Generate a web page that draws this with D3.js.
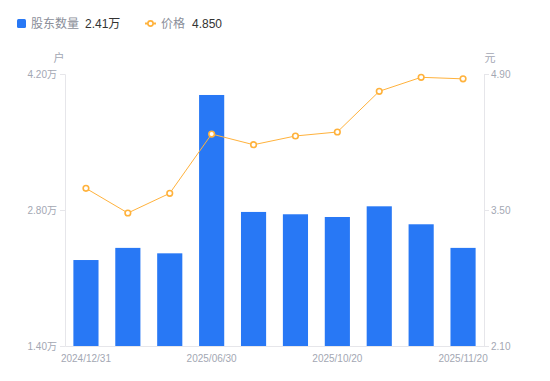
<!DOCTYPE html>
<html>
<head>
<meta charset="utf-8">
<script src="https://cdn.jsdelivr.net/npm/d3@7"></script>
<style>
  body { margin: 0; background: #fff; }
  text { font-family: "Liberation Sans", "Noto Sans CJK SC", sans-serif; }
</style>
</head>
<body>
<svg id="chart" width="550" height="381"></svg>
<script>
// Data
var dates = ["2024/12/31", "2025/03/31", "2025/04/30", "2025/06/30", "2025/08/31",
             "2025/09/30", "2025/10/20", "2025/10/31", "2025/11/10", "2025/11/20"];
var holders = [2.285, 2.41, 2.354, 3.984, 2.78, 2.756, 2.728, 2.838, 2.653, 2.41]; // 万户
var prices = [3.723, 3.469, 3.672, 4.282, 4.172, 4.262, 4.303, 4.722, 4.866, 4.850]; // 元
var leftTicks = [1.40, 2.80, 4.20];
var rightTicks = [2.10, 3.50, 4.90];
var shownDates = ["2024/12/31", "2025/06/30", "2025/10/20", "2025/11/20"];

var blue = "#2878f5";
var orange = "#ffb23c";
var axisColor = "#e6e6ea";
var labelColor = "#a3a7b3";

var svg = d3.select("#chart");

// Plot area
var margin = { top: 74, right: 66, bottom: 35, left: 65 };
var width = 550 - margin.left - margin.right;
var height = 381 - margin.top - margin.bottom;

var x = d3.scaleBand()
    .domain(dates)
    .range([margin.left, margin.left + width])
    .paddingInner(0.4)
    .paddingOuter(0.2);

var yLeft = d3.scaleLinear()
    .domain([1.40, 4.20])
    .range([margin.top + height, margin.top]);

var yRight = d3.scaleLinear()
    .domain([2.10, 4.90])
    .range([margin.top + height, margin.top]);

// Left axis
var leftAxis = svg.append("g")
    .attr("transform", "translate(" + margin.left + ",0)")
    .call(d3.axisLeft(yLeft).tickValues(leftTicks).tickSize(5).tickPadding(3)
        .tickFormat(d => d3.format(".2f")(d) + "万"));

// Right axis
var rightAxis = svg.append("g")
    .attr("transform", "translate(" + (margin.left + width) + ",0)")
    .call(d3.axisRight(yRight).tickValues(rightTicks).tickSize(5).tickPadding(2)
        .tickFormat(d3.format(".2f")));

// Bottom axis
var bottomAxis = svg.append("g")
    .attr("transform", "translate(0," + (margin.top + height) + ")")
    .call(d3.axisBottom(x).tickValues(shownDates).tickSize(0).tickPadding(9));

[leftAxis, rightAxis, bottomAxis].forEach(function (g) {
    g.select(".domain").attr("stroke", axisColor);
    g.selectAll(".tick line").attr("stroke", axisColor);
    g.selectAll(".tick text")
        .attr("fill", labelColor)
        .style("font-size", "10px");
});

// Axis units
svg.append("text").attr("x", 59).attr("y", 62).attr("text-anchor", "middle")
    .attr("fill", labelColor).style("font-size", "11px").text("户");
svg.append("text").attr("x", 490).attr("y", 62).attr("text-anchor", "middle")
    .attr("fill", labelColor).style("font-size", "11px").text("元");

// Bars
svg.append("g")
    .selectAll("rect")
    .data(holders)
    .enter()
    .append("rect")
    .attr("x", (d, i) => x(dates[i]))
    .attr("y", d => yLeft(d))
    .attr("width", x.bandwidth())
    .attr("height", d => yLeft(1.40) - yLeft(d))
    .attr("fill", blue);

// Price line
var line = d3.line()
    .x((d, i) => x(dates[i]) + x.bandwidth() / 2)
    .y(d => yRight(d));

svg.append("path")
    .datum(prices)
    .attr("fill", "none")
    .attr("stroke", orange)
    .attr("stroke-width", 1)
    .attr("d", line);

svg.append("g")
    .selectAll("circle")
    .data(prices)
    .enter()
    .append("circle")
    .attr("cx", (d, i) => x(dates[i]) + x.bandwidth() / 2)
    .attr("cy", d => yRight(d))
    .attr("r", 2.8)
    .attr("fill", "#fff")
    .attr("stroke", orange)
    .attr("stroke-width", 1.6);

// Legend
var legend = svg.append("g").style("font-size", "12px");
legend.append("rect").attr("x", 17).attr("y", 19).attr("width", 9).attr("height", 9)
    .attr("rx", 1.5).attr("fill", blue);
legend.append("text").attr("x", 31).attr("y", 28).attr("fill", "#8a8e99").text("股东数量");
legend.append("text").attr("x", 85).attr("y", 28).attr("fill", "#333").text(d3.format(".2f")(holders[holders.length - 1]) + "万");

legend.append("line").attr("x1", 145).attr("x2", 156).attr("y1", 23.5).attr("y2", 23.5)
    .attr("stroke", orange).attr("stroke-width", 2);
legend.append("circle").attr("cx", 150.5).attr("cy", 23.5).attr("r", 2.6)
    .attr("fill", "#fff").attr("stroke", orange).attr("stroke-width", 1.6);
legend.append("text").attr("x", 161).attr("y", 28).attr("fill", "#8a8e99").text("价格");
legend.append("text").attr("x", 192).attr("y", 28).attr("fill", "#333").text(d3.format(".3f")(prices[prices.length - 1]));
</script>
</body>
</html>
